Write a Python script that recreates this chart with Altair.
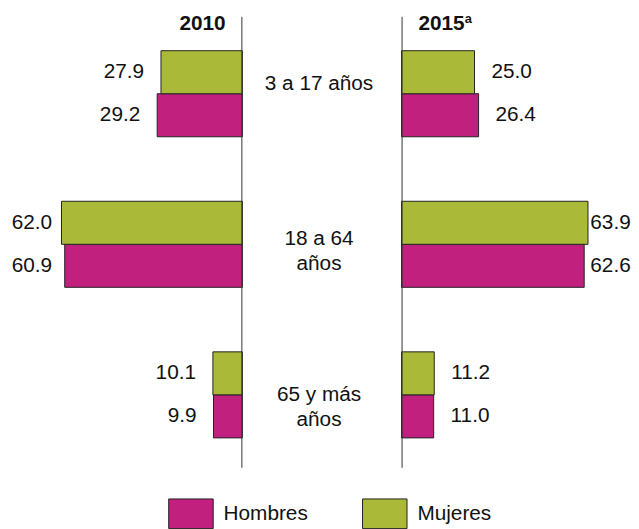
import altair as alt
import pandas as pd

# ---- data ----
cats = ["3 a 17 años", "18 a 64 años", "65 y más años"]
cat_labels = ["3 a 17 años", "18 a 64\naños", "65 y más\naños"]
sexos = ["Hombres", "Mujeres"]
hombres_2010 = [29.2, 60.9, 9.9]
mujeres_2010 = [27.9, 62.0, 10.1]
hombres_2015 = [26.4, 62.6, 11.0]
mujeres_2015 = [25.0, 63.9, 11.2]

rows = []
for i, c in enumerate(cats):
    rows.append(dict(cat=c, sexo="Hombres", anio="2010", v=hombres_2010[i]))
    rows.append(dict(cat=c, sexo="Mujeres", anio="2010", v=mujeres_2010[i]))
    rows.append(dict(cat=c, sexo="Hombres", anio="2015", v=hombres_2015[i]))
    rows.append(dict(cat=c, sexo="Mujeres", anio="2015", v=mujeres_2015[i]))
df = pd.DataFrame(rows)
lab_df = pd.DataFrame({"cat": cats, "lbl": cat_labels})
one = pd.DataFrame({"k": [0]})

FONT = "Arial, 'Liberation Sans', sans-serif"
MAG = "#C2207F"
GRN = "#AAB937"
TXT = "#111111"

H = 472
WL, WM, WR = 237, 159, 227
PX_PER_UNIT = 2.95

ysc = alt.Scale(domain=cats, paddingInner=0, paddingOuter=0.05)
yo = alt.YOffset("sexo:N", scale=alt.Scale(domain=["Mujeres", "Hombres"], paddingInner=0, paddingOuter=0.75))
color = alt.Color(
    "sexo:N",
    title=None,
    scale=alt.Scale(domain=sexos, range=[MAG, GRN]),
    legend=alt.Legend(
        orient="none", legendX=162, legendY=485, direction="horizontal",
        symbolType="M-1,-0.6667H1V0.6667H-1Z", symbolSize=2025,
        symbolStrokeColor="#222222", symbolStrokeWidth=1, symbolOpacity=1,
        labelFontSize=21, labelFont=FONT, labelColor=TXT, labelOffset=10,
        columnPadding=52, padding=0,
    ),
)


def panel(year, width, reverse, cap, align, title_x, title_align, rule_x):
    xsc = alt.Scale(domain=[0, width / PX_PER_UNIT], reverse=reverse, nice=False, zero=True)
    base = alt.Chart(df).transform_filter(f"datum.anio == '{year}'")
    bars = base.mark_bar(stroke="#222222", strokeWidth=1).encode(
        x=alt.X("v:Q", scale=xsc, axis=None),
        y=alt.Y("cat:N", scale=ysc, axis=None),
        yOffset=yo,
        color=color,
    )
    labels = base.transform_calculate(lx=f"min(datum.v + 5.8, {cap})").mark_text(
        align=align, baseline="middle", fontSize=21, font=FONT, color=TXT
    ).encode(
        x=alt.X("lx:Q", scale=xsc, axis=None),
        y=alt.Y("cat:N", scale=ysc, axis=None),
        yOffset=yo,
        text=alt.Text("v:Q", format=".1f"),
    )
    rule = alt.Chart(one).mark_rule(color="#333333", strokeWidth=1).encode(
        x=alt.value(rule_x), y=alt.value(6), y2=alt.value(462)
    )
    title = alt.Chart(one).mark_text(
        text=year, align=title_align, baseline="alphabetic", fontSize=21,
        fontWeight="bold", font=FONT, color=TXT
    ).encode(x=alt.value(title_x), y=alt.value(19))
    return [bars, labels, rule, title]


left = alt.layer(*panel("2010", WL, True, 65.2, "right", WL - 17, "right", WL - 0.5)).properties(width=WL, height=H)

rl = panel("2015", WR, False, 64.7, "left", 17, "left", 0.5)
sup = alt.Chart(one).mark_text(
    text="a", align="left", baseline="alphabetic", fontSize=13, fontWeight="bold", font=FONT, color=TXT
).encode(x=alt.value(64), y=alt.value(12))
right = alt.layer(*rl, sup).properties(width=WR, height=H)

mid = alt.Chart(lab_df).mark_text(
    fontSize=21, font=FONT, lineBreak="\n", lineHeight=25, baseline="middle", align="center",
    color=TXT, dy=-5
).encode(
    y=alt.Y("cat:N", scale=ysc, axis=None),
    x=alt.value(WM / 2 - 3),
    text="lbl:N",
).properties(width=WM, height=H)

chart = (
    alt.hconcat(left, mid, right, spacing=0)
    .resolve_scale(x="independent")
    .properties(padding=0)
    .configure(font=FONT)
    .configure_view(strokeWidth=0, stroke="transparent")
)

chart.save("out.html", embed_options={"renderer": "svg", "actions": False})
